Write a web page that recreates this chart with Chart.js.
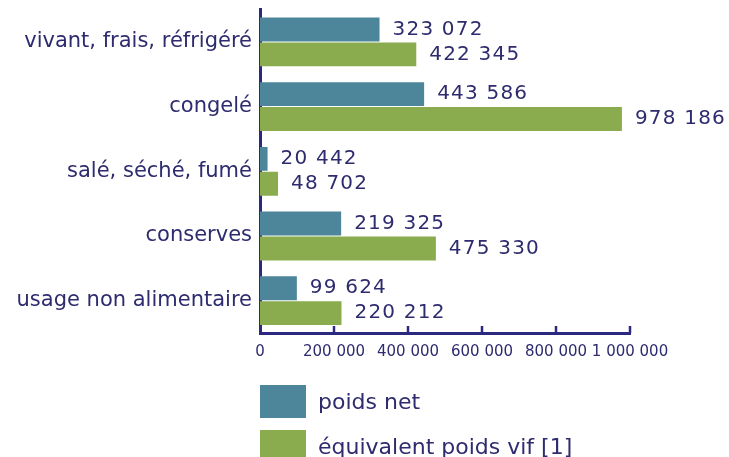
<!DOCTYPE html>
<html>
<head>
<meta charset="utf-8">
<script src="https://cdn.jsdelivr.net/npm/chart.js@4"></script>
<style>
  body { margin: 0; background: #fff; }
  #wrap { position: relative; width: 729px; height: 457px; overflow: hidden; }
  #chart { position: absolute; left: 0; top: -11px; }
  #legend { position: absolute; left: 260px; top: 385px; font-family: "DejaVu Sans", sans-serif; font-size: 22px; color: #2e2b6e; }
  .item { display: flex; align-items: center; height: 33px; margin-bottom: 12px; }
  .box { width: 46px; height: 33px; margin-right: 12px; }
</style>
</head>
<body>
<div id="wrap">
  <canvas id="chart" width="729" height="468"></canvas>
  <div id="legend"></div>
</div>
<script>
// categories and series
const categories = [
  "vivant, frais, réfrigéré",
  "congelé",
  "salé, séché, fumé",
  "conserves",
  "usage non alimentaire",
];
const poidsNet = [323072, 443586, 20442, 219325, 99624];
const poidsVif = [422345, 978186, 48702, 475330, 220212];
const seriesNames = ["poids net", "équivalent poids vif [1]"];
const xTicks = [0, 200000, 400000, 600000, 800000, 1000000];

const navy = "#2e2b6e";
const axisColor = "#2c2880";
const colors = ["#4d869b", "#8aab4e"];

// thousands with a space, like "323 072"
function fmt(v) {
  return String(v).replace(/\B(?=(\d{3})+(?!\d))/g, " ");
}

// numbers at the end of each bar
const valueLabels = {
  id: "valueLabels",
  afterDatasetsDraw(chart) {
    const ctx = chart.ctx;
    ctx.save();
    ctx.font = "20px 'DejaVu Sans'";
    ctx.letterSpacing = "1.2px";
    ctx.fillStyle = navy;
    ctx.textAlign = "left";
    ctx.textBaseline = "middle";
    chart.data.datasets.forEach((ds, i) => {
      chart.getDatasetMeta(i).data.forEach((bar, j) => {
        ctx.fillText(fmt(ds.data[j]), bar.x + 13, bar.y);
      });
    });
    ctx.restore();
  },
};

// small tick marks rising from the x axis line
const tickMarks = {
  id: "tickMarks",
  afterDraw(chart) {
    const ctx = chart.ctx;
    const x = chart.scales.x;
    const bottom = chart.chartArea.bottom;
    ctx.save();
    ctx.strokeStyle = axisColor;
    ctx.lineWidth = 2.5;
    xTicks.forEach((t) => {
      if (t === 0) return;
      const px = x.getPixelForValue(t);
      ctx.beginPath();
      ctx.moveTo(px, bottom);
      ctx.lineTo(px, bottom - 7);
      ctx.stroke();
    });
    ctx.restore();
  },
};

const ctx = document.getElementById("chart").getContext("2d");
new Chart(ctx, {
  type: "bar",
  data: {
    labels: categories,
    datasets: [
      { label: seriesNames[0], data: poidsNet, backgroundColor: colors[0] },
      { label: seriesNames[1], data: poidsVif, backgroundColor: colors[1] },
    ],
  },
  options: {
    indexAxis: "y",
    responsive: false,
    animation: false,
    layout: { padding: { top: 0, right: 99, bottom: 100, left: 0 } },
    datasets: { bar: { categoryPercentage: 0.77, barPercentage: 0.96 } },
    plugins: { legend: { display: false }, tooltip: { enabled: false } },
    scales: {
      x: {
        min: 0,
        max: 1000000,
        afterBuildTicks: (s) => { s.ticks = xTicks.map((v) => ({ value: v })); },
        afterFit: (s) => { s.height = 24; },
        grid: { display: false, drawTicks: false },
        border: { display: true, color: axisColor, width: 3 },
        ticks: {
          color: navy,
          padding: 10,
          maxRotation: 0,
          autoSkip: false,
          font: { family: "DejaVu Sans", size: 15 },
          callback: (v) => fmt(v),
        },
      },
      y: {
        afterFit: (s) => { s.width = 260; },
        grid: { display: false, drawTicks: false },
        border: { display: true, color: axisColor, width: 3 },
        ticks: {
          color: navy,
          padding: 8,
          font: { family: "DejaVu Sans", size: 21 },
        },
      },
    },
  },
  plugins: [valueLabels, tickMarks],
});

// legend, stacked vertically below the chart
const legend = document.getElementById("legend");
seriesNames.forEach((name, i) => {
  const item = document.createElement("div");
  item.className = "item";
  item.innerHTML = '<div class="box" style="background:' + colors[i] + '"></div><span>' + name + "</span>";
  legend.appendChild(item);
});
</script>
</body>
</html>
